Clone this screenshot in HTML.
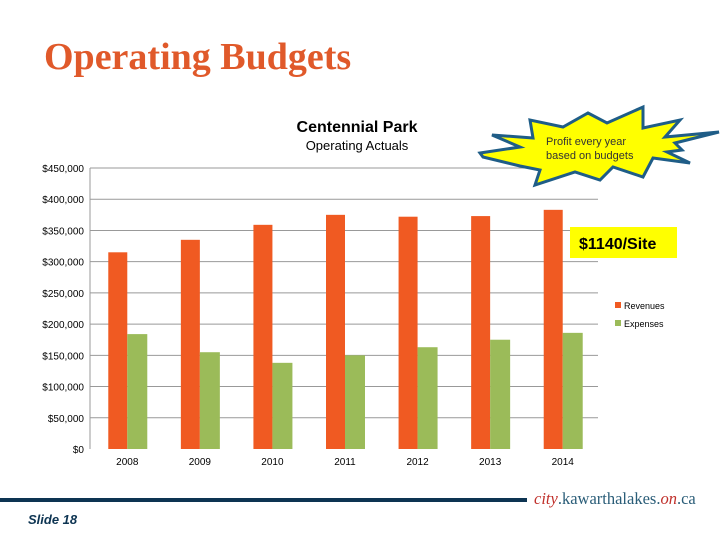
<!DOCTYPE html>
<html><head><meta charset="utf-8"><style>
body{margin:0;background:#fff;width:720px;height:540px;overflow:hidden;font-family:"Liberation Sans",sans-serif;position:relative}
.t{position:absolute;white-space:nowrap}
</style></head><body>
<div class="t" style="left:44px;top:35px;font-family:'Liberation Serif',serif;font-weight:bold;font-size:38px;color:#e0592a">Operating Budgets</div>
<svg width="720" height="540" style="position:absolute;left:0;top:0" id="c">
<text x="357" y="132" text-anchor="middle" font-size="16" font-weight="bold" fill="#000">Centennial Park</text>
<text x="357" y="150" text-anchor="middle" font-size="13" fill="#000">Operating Actuals</text>
<g id="grid"></g><g id="bars"></g><g id="ax"></g>
<g>
<rect x="615" y="302" width="6" height="6" fill="#f05a22"/>
<text x="624" y="309" font-size="9">Revenues</text>
<rect x="615" y="320" width="6" height="6" fill="#9bbb59"/>
<text x="624" y="327" font-size="9">Expenses</text>
</g>
<polygon points="480,153 520,147 492,135 533,138 530,120 563,127 588,113 607,123 643,107 643,128 680,120 665,137 719,132 675,143 682,150 667,152 690,163 653,158 643,177 613,167 600,180 575,172 535,185 540,170 520,166 483,157" fill="#ffff00" stroke="#1f5d87" stroke-width="3" stroke-linejoin="miter"/>
<text x="546" y="145" font-size="11" fill="#333">Profit every year</text>
<text x="546" y="159" font-size="11" fill="#333">based on budgets</text>
<rect x="570" y="227" width="107" height="31" fill="#ffff00"/>
<text x="579" y="249" font-size="16" font-weight="bold" fill="#000">$1140/Site</text>
<rect x="0" y="498" width="527" height="4" fill="#0d3452"/>
<text x="534" y="504" font-size="16.5" font-family="Liberation Serif,serif" fill="#2a5d78"><tspan fill="#c0302b" font-style="italic">city</tspan>.kawarthalakes.<tspan fill="#c0302b" font-style="italic">on</tspan>.ca</text>
<text x="28" y="524" font-size="13" font-style="italic" font-weight="bold" fill="#0d3452">Slide 18</text>
</svg>
<script>
const years=["2008","2009","2010","2011","2012","2013","2014"];
const revenues=[315000,335000,359000,375000,372000,373000,383000];
const expenses=[184000,155000,138000,150000,163000,175000,186000];
const ticks=[0,50000,100000,150000,200000,250000,300000,350000,400000,450000];
const tickLabels=["$0","$50,000","$100,000","$150,000","$200,000","$250,000","$300,000","$350,000","$400,000","$450,000"];
const NS="http://www.w3.org/2000/svg";
const x0=90,x1=598,y0=449,y1=168,max=450000;
const y=v=>y0-(v/max)*(y0-y1);
const bw=(x1-x0)/years.length;
const cx=i=>x0+bw*(i+0.5);
function mk(t,a,p){const e=document.createElementNS(NS,t);for(const k in a)e.setAttribute(k,a[k]);document.getElementById(p).appendChild(e);return e;}
ticks.forEach((v,i)=>{
 if(v>0){const l=mk('line',{x1:x0,x2:x1,y1:y(v),y2:y(v),stroke:'#999','stroke-width':1},'grid');
 
 }
 const t=mk('text',{x:84,y:y(v)+4,'text-anchor':'end','font-size':10},'ax');t.textContent=tickLabels[i];
 
 
});
const ax=mk('line',{x1:x0,x2:x0,y1:y1,y2:y0,stroke:'#999'},'ax');


years.forEach((yr,i)=>{
 const r=mk('rect',{x:cx(i)-18,y:y(revenues[i]),width:19,height:y0-y(revenues[i]),fill:'#f05a22'},'bars');
 
 
 const e=mk('rect',{x:cx(i)+1,y:y(expenses[i]),width:20,height:y0-y(expenses[i]),fill:'#9bbb59'},'bars');
 
 
 const t=mk('text',{x:cx(i)+1,y:465,'text-anchor':'middle','font-size':10},'ax');t.textContent=yr;
 
 
});
</script>
</body></html>
